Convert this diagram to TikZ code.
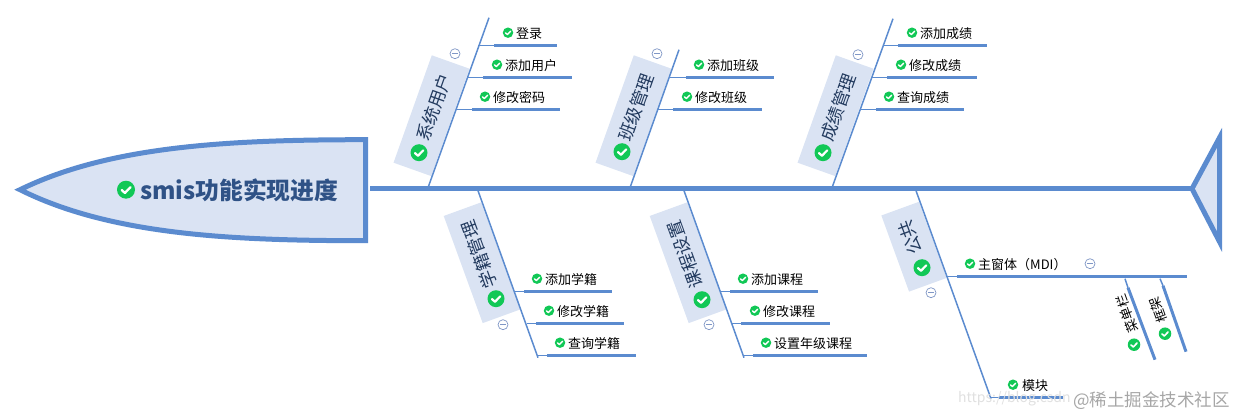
\documentclass[tikz,border=0pt]{standalone}
\usepackage{fontspec}
\setmainfont{Noto Sans CJK SC}
\definecolor{boneblue}{HTML}{5B8BCF}
\definecolor{paleblue}{HTML}{DAE3F3}
\definecolor{titleblue}{HTML}{2F5286}
\definecolor{labelink}{HTML}{223A5E}
\definecolor{okgreen}{HTML}{11C856}
\definecolor{minusblue}{HTML}{8097C6}

\begin{document}
\begin{tikzpicture}[
  x=1pt, y=-1pt,
  okmark/.style={circle, fill=okgreen, inner sep=0pt, minimum size=#1 pt,
    path picture={\draw[white, line width=#1*0.13pt, line cap=round, line join=round, shift={(path picture bounding box.center)}]
      (-0.24*#1,0.02*#1) -- (-0.06*#1,0.18*#1) -- (0.25*#1,-0.14*#1);}},
  minusmark/.style={circle, draw=minusblue, line width=0.7pt, fill=white, inner sep=0pt, minimum size=10pt,
    path picture={\draw[minusblue, line width=0.7pt, shift={(path picture bounding box.center)}] (-3,0) -- (3,0);}},
  labelbox/.style={fill=paleblue, text=labelink, font=\fontsize{17.6}{18}\selectfont, inner xsep=13pt, inner ysep=0pt,
    minimum height=40pt, text width=#1 pt, align=right},
  leaftext/.style={anchor=west, inner sep=0pt, text=black, font=\fontsize{13}{13}\selectfont},
  smalltext/.style={inner sep=0pt, text=black, font=\fontsize{13}{13}\selectfont, rotate=110},
  bone/.style={draw=boneblue, line width=1.5pt},
  leafline/.style={draw=boneblue, line width=3pt},
]

\coordinate (spineStart) at (370,188);
\coordinate (spineEnd) at (1192,188);
\draw[draw=boneblue, line width=5pt] (spineStart) -- (spineEnd);

\draw[draw=boneblue, fill=paleblue, line width=5pt, miter limit=10] (20,189) .. controls (110,145) and (230,139) .. (365.5,139) -- (365.5,240) .. controls (230,240) and (110,234) .. cycle;
\node[okmark=18] (rootOk) at (126,189) {};
\node[anchor=west, inner sep=0pt, text=titleblue, font=\fontsize{23.8}{24}\selectfont\bfseries] (root) at (140,190) {smis功能实现进度};

\draw[draw=boneblue, fill=paleblue, line width=5pt, miter limit=10] (spineEnd) -- (1219.5,137) -- (1219.5,241) -- cycle;

\node[labelbox=88, rotate=70.4] (user) at (431.5,115) {系统用户};
\node[labelbox=88, rotate=70.4] (class) at (633.5,115) {班级管理};
\node[labelbox=88, rotate=70.4] (score) at (835.5,115) {成绩管理};
\node[labelbox=88, rotate=110] (status) at (482,262) {学籍管理};
\node[labelbox=88, rotate=110] (course) at (688,262) {课程设置};
\node[labelbox=55, rotate=110] (common) at (914,246) {公共};

\node[okmark=17] (userOk) at (419,152) {};
\node[okmark=17] (classOk) at (622,151) {};
\node[okmark=17] (scoreOk) at (823,152) {};
\node[okmark=17] (statusOk) at (496,298) {};
\node[okmark=17] (courseOk) at (702,299) {};
\node[okmark=17] (commonOk) at (922,267) {};

\node[minusmark] (userMinus) at (455,53) {};
\node[minusmark] (classMinus) at (657,53) {};
\node[minusmark] (scoreMinus) at (858,54) {};
\node[minusmark] (statusMinus) at (503,324) {};
\node[minusmark] (courseMinus) at (709,324) {};
\node[minusmark] (commonMinus) at (931,292) {};

\coordinate (userRoot) at (428,187);
\coordinate (userTip) at (489,17);
\coordinate (classRoot) at (630,187);
\coordinate (classTip) at (679,49);
\coordinate (scoreRoot) at (832,187);
\coordinate (scoreTip) at (893,18);
\coordinate (statusRoot) at (478,190);
\coordinate (statusTip) at (538,357);
\coordinate (courseRoot) at (684,190);
\coordinate (courseTip) at (744,357);
\coordinate (commonRoot) at (916,190);
\coordinate (commonTip) at (991,398);

\draw[bone] (userRoot) -- (userTip);
\draw[bone] (classRoot) -- (classTip);
\draw[bone] (scoreRoot) -- (scoreTip);
\draw[bone] (statusRoot) -- (statusTip);
\draw[bone] (courseRoot) -- (courseTip);
\draw[bone] (commonRoot) -- (commonTip);

\coordinate (loginA) at (478,45); \coordinate (loginB) at (494,45); \coordinate (loginC) at (557,45);
\node[okmark=10.5] (loginOk) at (508,32) {};
\node[leaftext] (login) at (516,33) {登录};
\draw[bone] (loginA) -- (loginB);
\draw[leafline] (loginB) -- (loginC);

\coordinate (addUserA) at (468,77); \coordinate (addUserB) at (483,77); \coordinate (addUserC) at (572,77);
\node[okmark=10.5] (addUserOk) at (497,64) {};
\node[leaftext] (addUser) at (505,65) {添加用户};
\draw[bone] (addUserA) -- (addUserB);
\draw[leafline] (addUserB) -- (addUserC);

\coordinate (passwordA) at (456,109); \coordinate (passwordB) at (472,109); \coordinate (passwordC) at (560,109);
\node[okmark=10.5] (passwordOk) at (485,96) {};
\node[leaftext] (password) at (493,97) {修改密码};
\draw[bone] (passwordA) -- (passwordB);
\draw[leafline] (passwordB) -- (passwordC);

\coordinate (addClassA) at (670,77); \coordinate (addClassB) at (686,77); \coordinate (addClassC) at (774,77);
\node[okmark=10.5] (addClassOk) at (699,64) {};
\node[leaftext] (addClass) at (707,65) {添加班级};
\draw[bone] (addClassA) -- (addClassB);
\draw[leafline] (addClassB) -- (addClassC);

\coordinate (editClassA) at (658,109); \coordinate (editClassB) at (673,109); \coordinate (editClassC) at (762,109);
\node[okmark=10.5] (editClassOk) at (687,96) {};
\node[leaftext] (editClass) at (695,97) {修改班级};
\draw[bone] (editClassA) -- (editClassB);
\draw[leafline] (editClassB) -- (editClassC);

\coordinate (addScoreA) at (884,45); \coordinate (addScoreB) at (898,45); \coordinate (addScoreC) at (987,45);
\node[okmark=10.5] (addScoreOk) at (912,32) {};
\node[leaftext] (addScore) at (920,33) {添加成绩};
\draw[bone] (addScoreA) -- (addScoreB);
\draw[leafline] (addScoreB) -- (addScoreC);

\coordinate (editScoreA) at (872,77); \coordinate (editScoreB) at (887,77); \coordinate (editScoreC) at (977,77);
\node[okmark=10.5] (editScoreOk) at (901,64) {};
\node[leaftext] (editScore) at (909,65) {修改成绩};
\draw[bone] (editScoreA) -- (editScoreB);
\draw[leafline] (editScoreB) -- (editScoreC);

\coordinate (findScoreA) at (860,109); \coordinate (findScoreB) at (876,109); \coordinate (findScoreC) at (964,109);
\node[okmark=10.5] (findScoreOk) at (889,96) {};
\node[leaftext] (findScore) at (897,97) {查询成绩};
\draw[bone] (findScoreA) -- (findScoreB);
\draw[leafline] (findScoreB) -- (findScoreC);

\coordinate (addStatusA) at (515,291); \coordinate (addStatusB) at (524,291); \coordinate (addStatusC) at (612,291);
\node[okmark=10.5] (addStatusOk) at (537,278) {};
\node[leaftext] (addStatus) at (545,279) {添加学籍};
\draw[bone] (addStatusA) -- (addStatusB);
\draw[leafline] (addStatusB) -- (addStatusC);

\coordinate (editStatusA) at (527,323); \coordinate (editStatusB) at (536,323); \coordinate (editStatusC) at (624,323);
\node[okmark=10.5] (editStatusOk) at (549,310) {};
\node[leaftext] (editStatus) at (557,311) {修改学籍};
\draw[bone] (editStatusA) -- (editStatusB);
\draw[leafline] (editStatusB) -- (editStatusC);

\coordinate (findStatusA) at (538,355); \coordinate (findStatusB) at (547,355); \coordinate (findStatusC) at (636,355);
\node[okmark=10.5] (findStatusOk) at (560,342) {};
\node[leaftext] (findStatus) at (568,343) {查询学籍};
\draw[bone] (findStatusA) -- (findStatusB);
\draw[leafline] (findStatusB) -- (findStatusC);

\coordinate (addCourseA) at (721,291); \coordinate (addCourseB) at (730,291); \coordinate (addCourseC) at (818,291);
\node[okmark=10.5] (addCourseOk) at (743,278) {};
\node[leaftext] (addCourse) at (751,279) {添加课程};
\draw[bone] (addCourseA) -- (addCourseB);
\draw[leafline] (addCourseB) -- (addCourseC);

\coordinate (editCourseA) at (732,323); \coordinate (editCourseB) at (741,323); \coordinate (editCourseC) at (830,323);
\node[okmark=10.5] (editCourseOk) at (755,310) {};
\node[leaftext] (editCourse) at (763,311) {修改课程};
\draw[bone] (editCourseA) -- (editCourseB);
\draw[leafline] (editCourseB) -- (editCourseC);

\coordinate (gradeCourseA) at (744,355); \coordinate (gradeCourseB) at (753,355); \coordinate (gradeCourseC) at (867,355);
\node[okmark=10.5] (gradeCourseOk) at (766,342) {};
\node[leaftext] (gradeCourse) at (774,343) {设置年级课程};
\draw[bone] (gradeCourseA) -- (gradeCourseB);
\draw[leafline] (gradeCourseB) -- (gradeCourseC);

\coordinate (mdiA) at (947,276); \coordinate (mdiB) at (957,276); \coordinate (mdiC) at (1187,276);
\node[okmark=10.5] (mdiOk) at (970,263) {};
\node[leaftext] (mdi) at (978,264) {主窗体（MDI）};
\node[minusmark] (mdiMinus) at (1090,263) {};
\draw[bone] (mdiA) -- (mdiB);
\draw[leafline] (mdiB) -- (mdiC);

\coordinate (moduleA) at (991,397); \coordinate (moduleB) at (999,397); \coordinate (moduleC) at (1063,397);
\node[okmark=10.5] (moduleOk) at (1013,384) {};
\node[leaftext] (module) at (1022,385) {模块};
\draw[bone] (moduleA) -- (moduleB);
\draw[leafline] (moduleB) -- (moduleC);

\coordinate (menuA) at (1125,278); \coordinate (menuB) at (1128,287); \coordinate (menuC) at (1155,359);
\node[okmark=12.5] (menuOk) at (1134,344) {};
\node[smalltext] (menu) at (1127,313) {菜单栏};
\draw[bone] (menuA) -- (menuB);
\draw[leafline] (menuB) -- (menuC);

\coordinate (frameA) at (1160,278); \coordinate (frameB) at (1163,285); \coordinate (frameC) at (1186,351);
\node[okmark=12.5] (frameOk) at (1165,333) {};
\node[smalltext] (frame) at (1158,309) {框架};
\draw[bone] (frameA) -- (frameB);
\draw[leafline] (frameB) -- (frameC);

\node[anchor=west, inner sep=0pt, text=black!12, font=\fontsize{14}{14}\selectfont] (markA) at (958,398) {https://blog.csdn};
\node[anchor=west, inner sep=0pt, text=black!35, font=\fontsize{17.5}{18}\selectfont] (markB) at (1073,400) {@稀土掘金技术社区};

\useasboundingbox (0,-0.7) rectangle (1239,416.3);
\end{tikzpicture}
\end{document}
